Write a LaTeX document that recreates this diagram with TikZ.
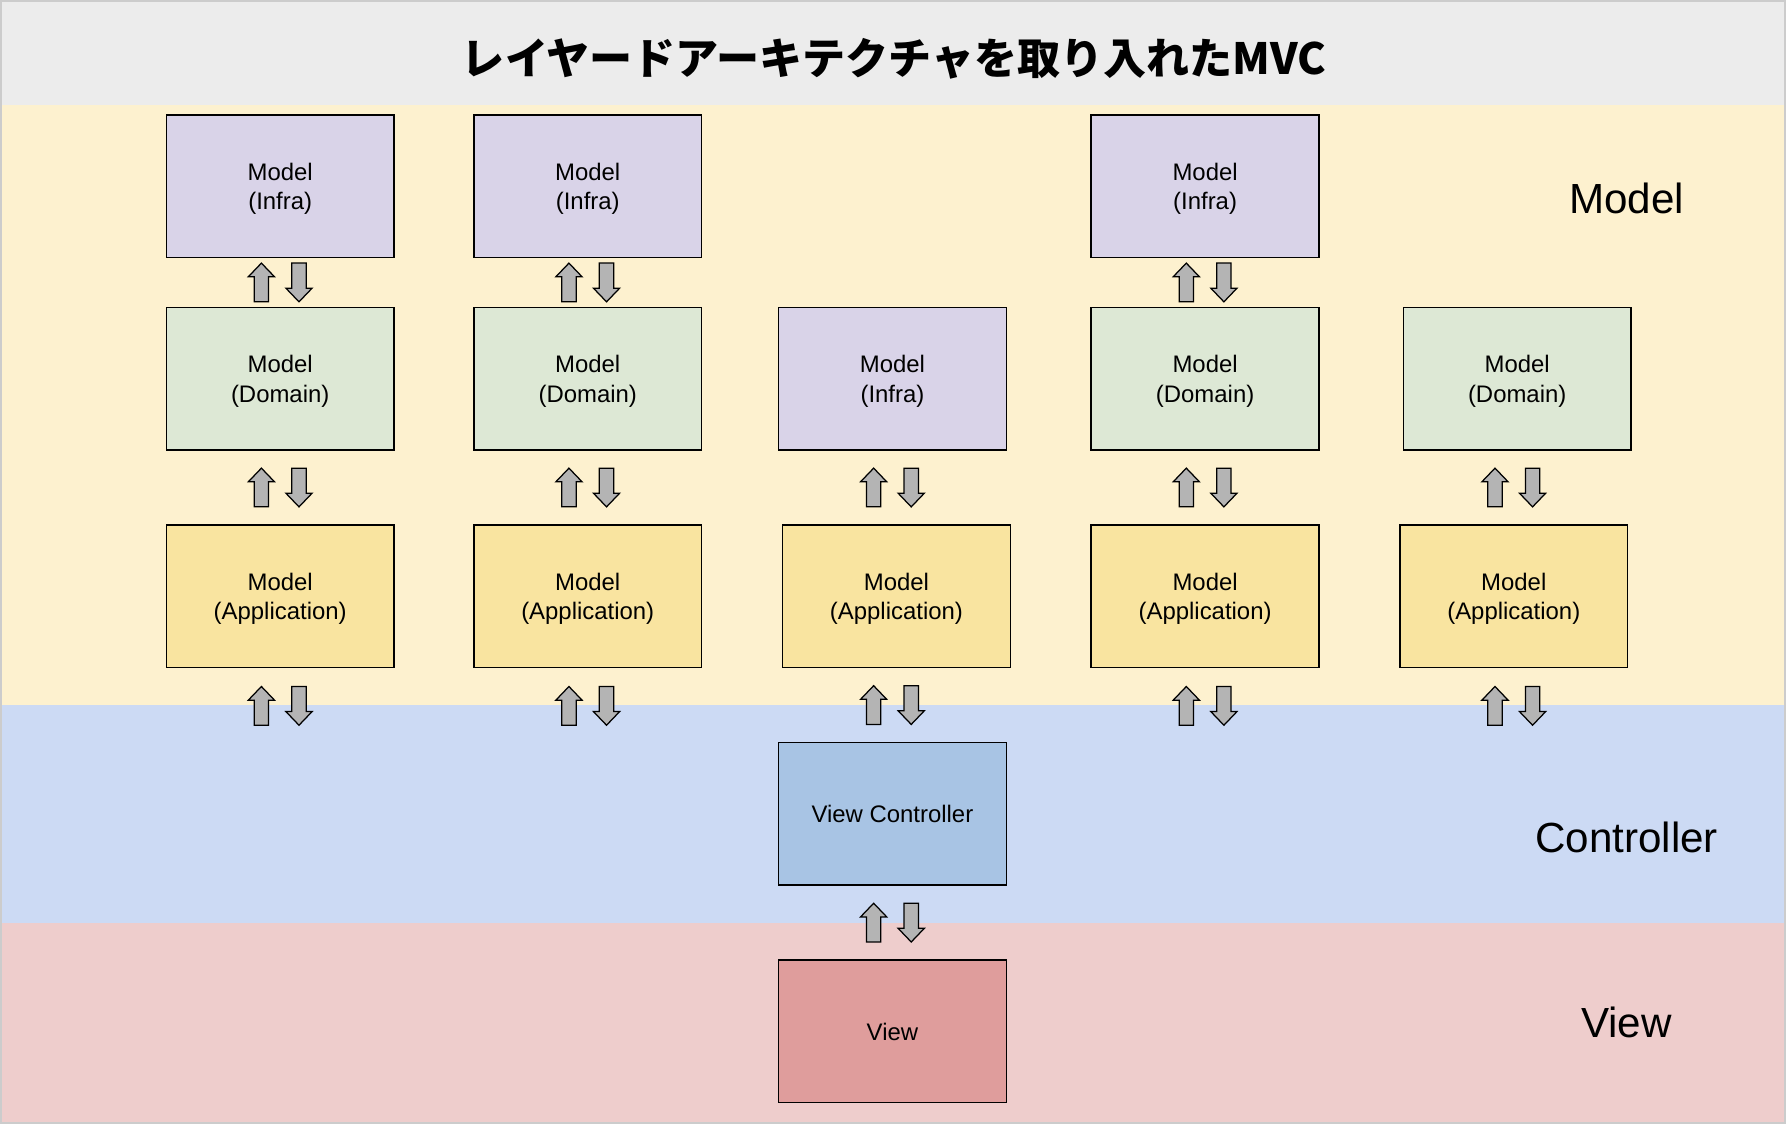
\documentclass[tikz,border=0pt]{standalone}
\usepackage{fontspec}
\setmainfont{Liberation Sans}
\newfontfamily\cjk{Noto Sans CJK JP}
\usepackage{tikz}
\usetikzlibrary{calc}
\usetikzlibrary{positioning}

\definecolor{titlebg}{HTML}{ECECEC}
\definecolor{modelbg}{HTML}{FDF1CF}
\definecolor{ctrlbg}{HTML}{CCDAF4}
\definecolor{viewbg}{HTML}{EECDCC}
\definecolor{infrafill}{HTML}{D9D3E8}
\definecolor{domainfill}{HTML}{DDE8D5}
\definecolor{appfill}{HTML}{F9E4A0}
\definecolor{vcfill}{HTML}{A8C4E4}
\definecolor{viewfill}{HTML}{DF9D9C}
\definecolor{arrowgray}{HTML}{B4B4B4}

\tikzset{
  layerbox/.style={draw, line width=1.4pt, minimum width=200pt, minimum height=125pt,
      inner sep=0pt, text depth=0pt, align=center, font=\fontsize{21}{26}\selectfont},
  infrabox/.style={layerbox, fill=infrafill},
  domainbox/.style={layerbox, fill=domainfill},
  appbox/.style={layerbox, fill=appfill},
  arrowbody/.style={draw, fill=arrowgray, line width=1.1pt, line join=miter},
  layerlabel/.style={font=\fontsize{37}{44}\selectfont},
  uparr/.pic={
      \draw[arrowbody] (-6.3,17) -- (-6.3,-5) -- (-11.5,-5) -- (0,-17)
        -- (11.5,-5) -- (6.3,-5) -- (6.3,17) -- cycle;
    },
  downarr/.pic={
      \draw[arrowbody] (-6.3,-17) -- (-6.3,5) -- (-11.5,5) -- (0,17)
        -- (11.5,5) -- (6.3,5) -- (6.3,-17) -- cycle;
    },
  updown/.pic={
      \pic at (-16.5,0) {uparr};
      \pic at (16.5,0) {downarr};
    },
}

\begin{document}
\begin{tikzpicture}[x=1pt, y=-1pt]
      \useasboundingbox (0,0) rectangle (1568,987);

      \fill[titlebg] (0,0) rectangle (1568,92);
      \fill[modelbg] (0,92) rectangle (1568,619);
      \fill[ctrlbg] (0,619) rectangle (1568,810);
      \fill[viewbg] (0,810) rectangle (1568,987);
      \draw[gray!40, line width=2pt] (1,1) rectangle (1567,986);

      \node (title) at (785,52) {\cjk\bfseries\fontsize{37.8}{44}\selectfont レイヤードアーキテクチャを取り入れたMVC};

      \node [layerlabel] (lblmodel) at (1428,174) {Model};
      \node [layerlabel] (lblctrl) at (1428,735) {Controller};
      \node [layerlabel] (lblview) at (1428,898) {View};

      \node [infrabox] (inf1) at (246,163.5) {Model\\(Infra)};
      \node [infrabox] (inf2) at (516,163.5) {Model\\(Infra)};
      \node [infrabox] (inf4) at (1058,163.5) {Model\\(Infra)};

      \node [domainbox] (dom1) at (246,332.5) {Model\\(Domain)};
      \node [domainbox] (dom2) at (516,332.5) {Model\\(Domain)};
      \node [infrabox] (inf3) at (783.5,332.5) {Model\\(Infra)};
      \node [domainbox] (dom4) at (1058,332.5) {Model\\(Domain)};
      \node [domainbox] (dom5) at (1332,332.5) {Model\\(Domain)};

      \node [appbox] (app1) at (246,523.5) {Model\\(Application)};
      \node [appbox] (app2) at (516,523.5) {Model\\(Application)};
      \node [appbox] (app3) at (787,523.5) {Model\\(Application)};
      \node [appbox] (app4) at (1058,523.5) {Model\\(Application)};
      \node [appbox] (app5) at (1329,523.5) {Model\\(Application)};

      \node [layerbox, fill=vcfill] (vc) at (783.5,714.5) {View Controller};
      \node [layerbox, fill=viewfill] (view) at (783.5,905.5) {View};

      \pic at ($(inf1.south)!.5!(dom1.north)$) {updown};
      \pic at ($(inf2.south)!.5!(dom2.north)$) {updown};
      \pic at ($(inf4.south)!.5!(dom4.north)$) {updown};

      \pic at ($(dom1.south)!.5!(app1.north)$) {updown};
      \pic at ($(dom2.south)!.5!(app2.north)$) {updown};
      \pic at ($(inf3.south)!.5!(inf3.south |- app3.north)$) {updown};
      \pic at ($(dom4.south)!.5!(app4.north)$) {updown};
      \pic at ($(dom5.south -| app5.south)!.5!(app5.north)$) {updown};

      \pic at ($(app1.south)+(0,33)$) {updown};
      \pic at ($(app2.south)+(0,33)$) {updown};
      \pic at ($(vc.north)!.5!(vc.north |- app3.south)$) {updown};
      \pic at ($(app4.south)+(0,33)$) {updown};
      \pic at ($(app5.south)+(0,33)$) {updown};

      \pic at ($(vc.south)!.5!(view.north)$) {updown};

    \end{tikzpicture}
\end{document}
